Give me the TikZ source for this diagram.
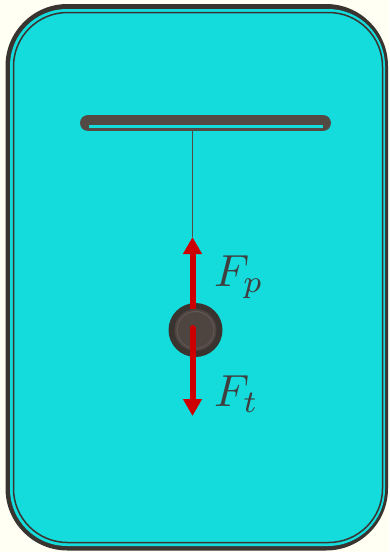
\documentclass[tikz,border=0pt]{standalone}
\usetikzlibrary{arrows.meta}
\definecolor{bgc}{HTML}{FFFFF3}
\definecolor{darkc}{HTML}{3A3431}
\definecolor{cyanc}{HTML}{15DCDC}
\definecolor{barc}{HTML}{544A44}
\definecolor{ballin}{HTML}{4E4540}
\definecolor{ringc}{HTML}{625853}
\definecolor{redc}{HTML}{CC0000}
\definecolor{txtc}{HTML}{3F3F3F}
\newcommand{\biglabel}[1]{\scalebox{4.5}{$#1$}}
\tikzset{
  force/.style={draw=redc, line width=6pt, -{Triangle[length=17pt,width=18pt]}},
  flabel/.style={text=txtc, inner sep=0pt, anchor=base west},
}
\begin{document}
\begin{tikzpicture}[x=1pt,y=-1pt]
\useasboundingbox (0,0) rectangle (389,552);
\fill[bgc] (0,0) rectangle (389,552);
% frame
\fill[darkc, rounded corners=62pt] (5.5,4) rectangle (388,550.5);
\fill[cyanc, rounded corners=57pt] (10,9) rectangle (385,546);
\draw[darkc, line width=1.5pt, rounded corners=54pt] (13.5,12.5) rectangle (382.5,542.5);
% bar
\coordinate (barL) at (88,123);
\coordinate (barR) at (323,123);
\draw[barc, line width=16pt, line cap=round] (barL) -- (barR);
\fill[cyanc] (89,125) rectangle (322.5,128.3);
% string
\coordinate (hook) at (192.5,131);
\coordinate (uptip) at (192.5,237);
\draw[barc, line width=1pt] (hook) -- (uptip);
% ball
\node[circle, fill=darkc, minimum size=54pt, inner sep=0pt] (ball) at (195.5,330) {};
\node[circle, fill=ballin, minimum size=42pt, inner sep=0pt] (ballin) at (ball.center) {};
\draw[ringc, line width=1pt] (ball.center) circle (18.5pt);
% forces
\coordinate (upstart) at (192.5,309);
\coordinate (downstart) at (192.5,328);
\coordinate (downtip) at (192.5,416);
\draw[force] (upstart) -- (uptip);
\draw[force, line cap=round] (downstart) -- (downtip);
\node[flabel] (Fp) at (214,286) {\biglabel{F_p}};
\node[flabel] (Ft) at (214,406) {\biglabel{F_t}};
\end{tikzpicture}
\end{document}
